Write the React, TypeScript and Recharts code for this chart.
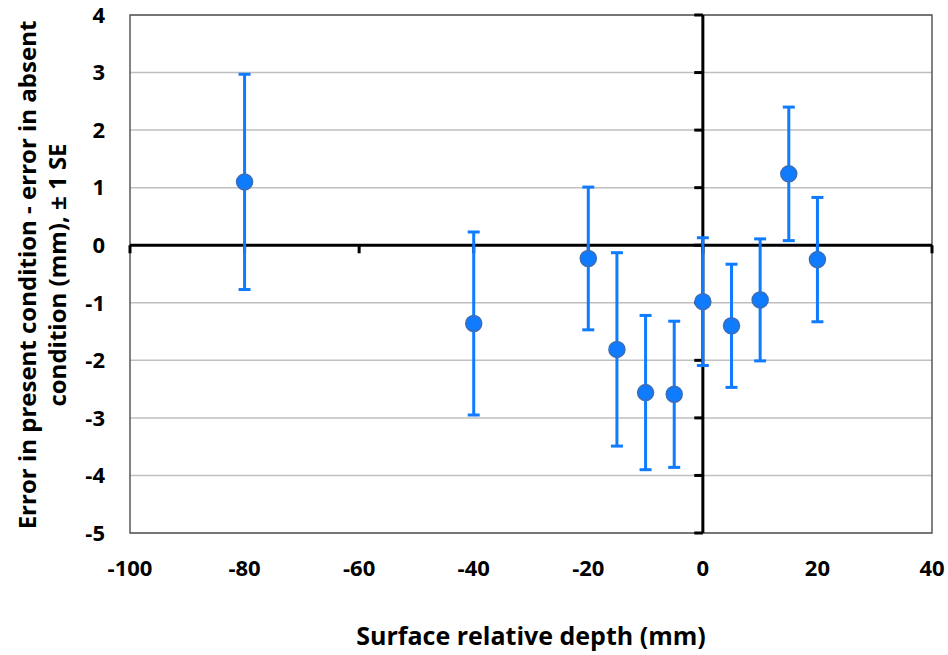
import {
  ScatterChart,
  Scatter,
  XAxis,
  YAxis,
  CartesianGrid,
  ReferenceLine,
  ReferenceArea,
  ErrorBar,
} from 'recharts';

// surface relative depth (mm)
const depth = [-80, -40, -20, -15, -10, -5, 0, 5, 10, 15, 20];
// error present - error absent (mm)
const meanDiff = [1.1, -1.36, -0.23, -1.81, -2.56, -2.59, -0.98, -1.4, -0.95, 1.24, -0.25];
// ± 1 SE
const seValues = [1.87, 1.59, 1.24, 1.68, 1.34, 1.27, 1.11, 1.07, 1.06, 1.16, 1.08];

const xTicks = [-100, -80, -60, -40, -20, 0, 20, 40];
const yTicks = [-5, -4, -3, -2, -1, 0, 1, 2, 3, 4];

const FONT = '"Open Sans", sans-serif';
const BLUE = '#0F7BFF';

const data = depth.map((d, i) => ({ x: d, y: meanDiff[i], se: seValues[i] }));

const Dot = (props: any) => {
  const { cx, cy } = props;
  if (cx == null || cy == null) return null;
  return <circle cx={cx} cy={cy} r={8} fill={BLUE} stroke="#3D6DB5" strokeWidth={1.5} />;
};

const YLabel = ({ viewBox }: any) => {
  const cy = viewBox.y + viewBox.height / 2 + 1;
  const x1 = 26;
  const x2 = 56;
  const style = { fontFamily: FONT, fontWeight: 700, fontSize: 24, fill: '#000' };
  return (
    <g>
      <text x={x1} y={cy} transform={`rotate(-90 ${x1} ${cy})`} textAnchor="middle" dominantBaseline="central" style={style}>
        Error in present condition - error in absent
      </text>
      <text x={x2} y={cy} transform={`rotate(-90 ${x2} ${cy})`} textAnchor="middle" dominantBaseline="central" style={style}>
        condition (mm), ± 1 SE
      </text>
    </g>
  );
};

const XLabel = ({ viewBox }: any) => {
  const cx = viewBox.x + viewBox.width / 2;
  return (
    <text x={cx} y={645} textAnchor="middle" style={{ fontFamily: FONT, fontWeight: 700, fontSize: 25, fill: '#000' }}>
      Surface relative depth (mm)
    </text>
  );
};

export default function App() {
  const tickStyle = { fontFamily: FONT, fontWeight: 700, fontSize: 22, fill: '#000' };
  return (
    <div style={{ position: 'absolute', left: 0, top: 0, background: '#fff' }}>
      <ScatterChart width={948} height={655} margin={{ top: 15, right: 16, bottom: 0, left: 0 }}>
        <CartesianGrid vertical={false} stroke="#BFBFBF" strokeWidth={1.5} />
        <XAxis
          type="number"
          dataKey="x"
          domain={[-100, 40]}
          ticks={xTicks}
          height={122}
          axisLine={false}
          tickLine={false}
          tickSize={0}
          tickMargin={27}
          tick={tickStyle}
          interval={0}
          label={<XLabel />}
        />
        <YAxis
          type="number"
          dataKey="y"
          domain={[-5, 4]}
          ticks={yTicks}
          width={130}
          axisLine={false}
          tickLine={false}
          tickSize={0}
          tickMargin={25}
          tick={tickStyle}
          interval={0}
          label={<YLabel />}
        />
        <ReferenceArea x1={-100} x2={40} y1={-5} y2={4} fill="none" fillOpacity={0} stroke="#595959" strokeWidth={1.5} />
        <ReferenceLine y={0} stroke="#000" strokeWidth={3} />
        <ReferenceLine x={0} stroke="#000" strokeWidth={3} />
        {xTicks.map((t) => (
          <ReferenceLine key={`xt${t}`} segment={[{ x: t, y: 0 }, { x: t, y: -0.14 }]} stroke="#000" strokeWidth={3} />
        ))}
        {yTicks.map((t) => (
          <ReferenceLine key={`yt${t}`} segment={[{ x: 0, y: t }, { x: -1.5, y: t }]} stroke="#000" strokeWidth={3} />
        ))}
        <Scatter data={data} shape={<Dot />} isAnimationActive={false}>
          <ErrorBar dataKey="se" direction="y" width={6} stroke={BLUE} strokeWidth={3} isAnimationActive={false} />
        </Scatter>
      </ScatterChart>
    </div>
  );
}
